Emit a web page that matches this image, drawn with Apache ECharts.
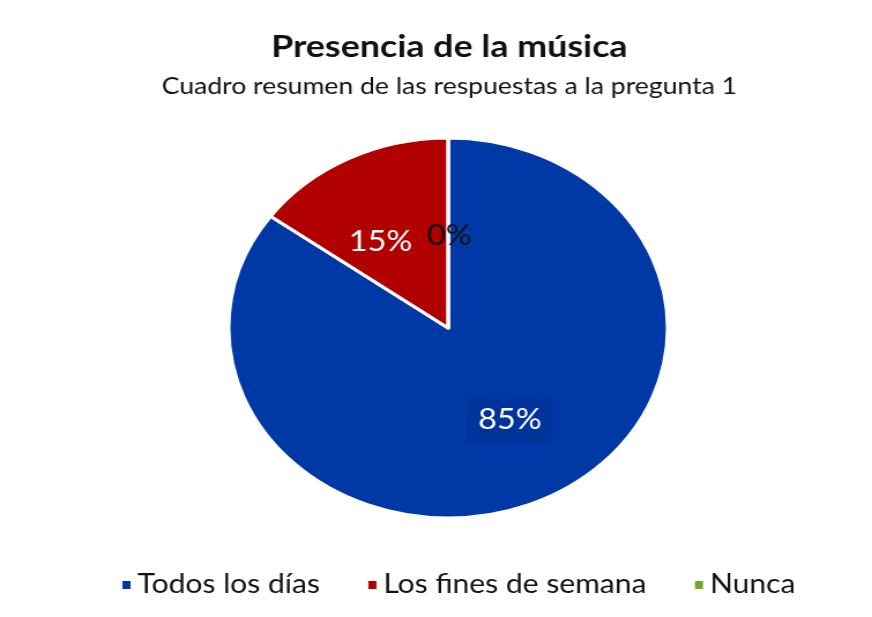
<html>
<head>
    <meta charset='utf-8'/>
    <title>Presencia de la música</title>
    <style>
        body {
            margin: 0;
            padding: 0;
            overflow: hidden;
            background: #fff;
        }

        /* the reference is stretched sideways, so the chart is drawn narrower and scaled */
        #chart {
            position: absolute;
            top: 0;
            left: 0;
            width: 755px;
            height: 617px;
            transform: scaleX(1.155);
            transform-origin: 0 0;
        }
    </style>
    <script src="https://cdn.jsdelivr.net/npm/echarts@6/dist/echarts.min.js"></script>
</head>
<body>
<div id='chart'></div>
<script type="text/javascript">
    var categories = ['Todos los días', 'Los fines de semana', 'Nunca'];
    var values = [85, 15, 0];
    var colors = ['#0039A6', '#B00000', '#6FA823'];
    var labelColors = ['#ffffff', '#ffffff', '#111111'];
    var labelOffsets = [[9, 5], [-14, 1], [1, 6]];

    var pieData = categories.map(function (name, i) {
        return {
            name: name,
            value: values[i],
            itemStyle: {color: colors[i]},
            label: {color: labelColors[i], offset: labelOffsets[i]}
        };
    });
    pieData[0].label.backgroundColor = '#00349A';
    pieData[0].label.padding = [8, 10];

    var chart = echarts.init(document.getElementById('chart'), null, {renderer: 'canvas'});
    var option = {
        backgroundColor: '#ffffff',
        title: {
            text: 'Presencia de la música',
            subtext: 'Cuadro resumen de las respuestas a la pregunta 1',
            left: 384,
            textAlign: 'center',
            top: 26,
            itemGap: 13,
            textStyle: {
                fontFamily: 'Lato',
                fontWeight: 'bold',
                fontSize: 31,
                color: '#111'
            },
            subtextStyle: {
                fontFamily: 'Lato',
                fontSize: 23,
                color: '#111'
            }
        },
        legend: {
            data: categories,
            top: 567,
            left: 99,
            icon: 'rect',
            itemWidth: 9,
            itemHeight: 10,
            itemGap: 40,
            textStyle: {
                fontFamily: 'Lato',
                fontSize: 26,
                color: '#111'
            }
        },
        series: [
            {
                name: 'Presencia',
                type: 'pie',
                center: [388, 328],
                radius: [0, 190],
                startAngle: 90,
                clockwise: true,
                avoidLabelOverlap: false,
                stillShowZeroSum: true,
                minShowLabelAngle: 0,
                itemStyle: {
                    borderColor: '#ffffff',
                    borderWidth: 3
                },
                label: {
                    show: true,
                    position: 'inside',
                    formatter: '{d}%',
                    fontFamily: 'Lato',
                    fontSize: 28
                },
                labelLine: {show: false},
                emphasis: {disabled: true},
                data: pieData
            }
        ]
    };
    chart.setOption(option);
</script>
</body>
</html>
